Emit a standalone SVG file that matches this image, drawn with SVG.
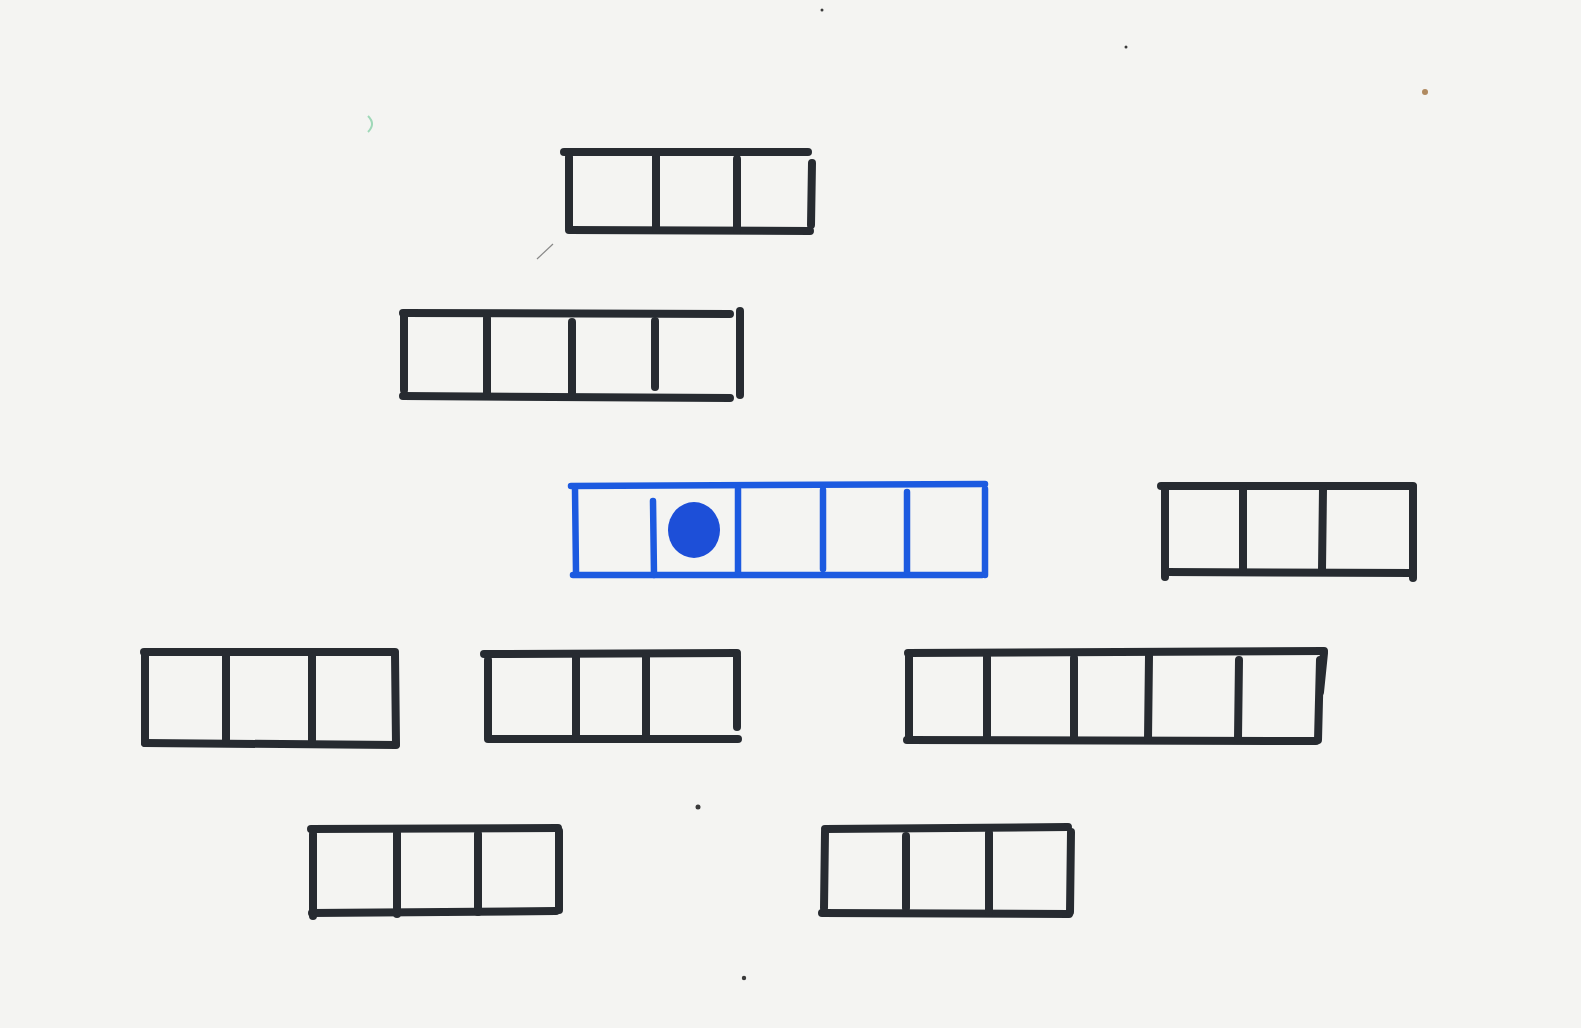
<svg xmlns="http://www.w3.org/2000/svg" width="1581" height="1028" viewBox="0 0 1581 1028">
<style>
.k line{stroke:#272b31;stroke-width:8;stroke-linecap:round;fill:none}
.b line{stroke:#1c5ae0;stroke-width:6.5;stroke-linecap:round;fill:none}
.dot{fill:#1d4fd8}
.speck{fill:#3a3a3a}
</style>
<rect x="0" y="0" width="1581" height="1028" fill="#f4f4f2"/>
<g id="specks">
<circle class="speck" cx="698" cy="807" r="2.5"/>
<circle class="speck" cx="744" cy="978" r="2.2"/>
<circle class="speck" cx="822" cy="10" r="1.5"/>
<circle class="speck" cx="1126" cy="47" r="1.5"/>
<circle cx="1425" cy="92" r="3" fill="#b08a60"/>
<path d="M368 116 q8 8 0 16" stroke="#9fd8b8" stroke-width="2" fill="none"/>
<line x1="537" y1="259" x2="553" y2="244" stroke="#888" stroke-width="1.2"/>
</g>
<g id="box-top" class="k">
<line x1="564" y1="152" x2="808" y2="152"/>
<line x1="569" y1="230" x2="810" y2="231"/>
<line x1="569" y1="157" x2="569" y2="228"/>
<line x1="656" y1="155" x2="656" y2="229"/>
<line x1="737" y1="159" x2="737" y2="230"/>
<line x1="812" y1="163" x2="811" y2="225"/>
</g>
<g id="box-second" class="k">
<line x1="403" y1="313" x2="730" y2="314"/>
<line x1="740" y1="311" x2="740" y2="395"/>
<line x1="403" y1="396" x2="730" y2="398"/>
<line x1="404" y1="316" x2="404" y2="390"/>
<line x1="487" y1="318" x2="487" y2="393"/>
<line x1="572" y1="322" x2="572" y2="395"/>
<line x1="655" y1="321" x2="655" y2="387"/>
</g>
<g id="box-blue" class="b">
<line x1="571" y1="486" x2="985" y2="484"/>
<line x1="573" y1="575" x2="982" y2="575"/>
<line x1="575" y1="489" x2="576" y2="572"/>
<line x1="653" y1="501" x2="654" y2="575"/>
<line x1="738" y1="489" x2="738" y2="573"/>
<line x1="823" y1="490" x2="823" y2="569"/>
<line x1="907" y1="492" x2="907" y2="572"/>
<line x1="985" y1="489" x2="985" y2="575"/>
<ellipse class="dot" cx="694" cy="530" rx="26" ry="28"/>
</g>
<g id="box-right" class="k">
<line x1="1161" y1="486" x2="1413" y2="486"/>
<line x1="1166" y1="572" x2="1413" y2="573"/>
<line x1="1165" y1="490" x2="1165" y2="577"/>
<line x1="1243" y1="489" x2="1243" y2="569"/>
<line x1="1323" y1="489" x2="1322" y2="570"/>
<line x1="1413" y1="487" x2="1413" y2="578"/>
</g>
<g id="box-row4-left" class="k">
<line x1="144" y1="652" x2="395" y2="652"/>
<line x1="145" y1="743" x2="396" y2="745"/>
<line x1="145" y1="654" x2="145" y2="743"/>
<line x1="226" y1="654" x2="226" y2="742"/>
<line x1="312" y1="656" x2="312" y2="744"/>
<line x1="395" y1="654" x2="396" y2="744"/>
</g>
<g id="box-row4-mid" class="k">
<line x1="484" y1="654" x2="737" y2="653"/>
<line x1="488" y1="739" x2="738" y2="739"/>
<line x1="488" y1="660" x2="488" y2="737"/>
<line x1="576" y1="657" x2="576" y2="738"/>
<line x1="646" y1="657" x2="646" y2="737"/>
<line x1="737" y1="656" x2="737" y2="727"/>
</g>
<g id="box-row4-right" class="k">
<line x1="908" y1="653" x2="1324" y2="651"/>
<line x1="907" y1="740" x2="1316" y2="741"/>
<line x1="909" y1="656" x2="909" y2="739"/>
<line x1="987" y1="657" x2="987" y2="738"/>
<line x1="1074" y1="658" x2="1074" y2="738"/>
<line x1="1149" y1="656" x2="1148" y2="739"/>
<line x1="1239" y1="660" x2="1238" y2="738"/>
<line x1="1324" y1="653" x2="1320" y2="692"/>
<line x1="1320" y1="660" x2="1318" y2="740"/>
</g>
<g id="box-bottom-left" class="k">
<line x1="311" y1="829" x2="558" y2="828"/>
<line x1="312" y1="913" x2="556" y2="911"/>
<line x1="313" y1="834" x2="313" y2="916"/>
<line x1="397" y1="833" x2="397" y2="914"/>
<line x1="478" y1="834" x2="478" y2="912"/>
<line x1="559" y1="831" x2="559" y2="910"/>
</g>
<g id="box-bottom-right" class="k">
<line x1="825" y1="829" x2="1068" y2="827"/>
<line x1="822" y1="913" x2="1069" y2="914"/>
<line x1="825" y1="832" x2="824" y2="908"/>
<line x1="906" y1="836" x2="906" y2="908"/>
<line x1="989" y1="833" x2="989" y2="912"/>
<line x1="1071" y1="832" x2="1070" y2="912"/>
</g>
<g id="connectors"/>
</svg>
